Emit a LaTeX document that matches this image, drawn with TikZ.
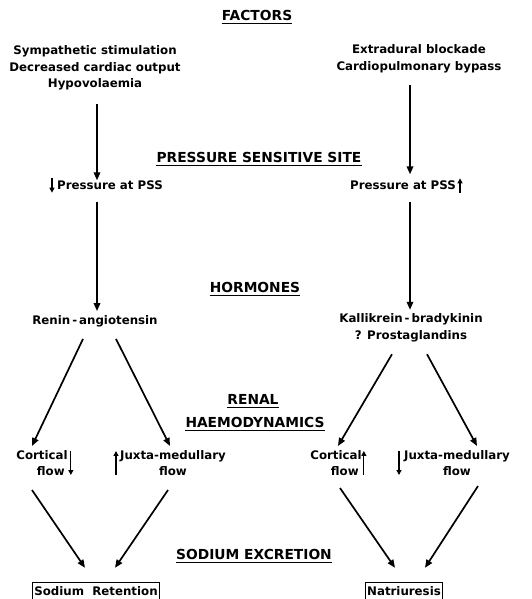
\documentclass[tikz,border=0pt]{standalone}
\usepackage{fontspec}
\setmainfont{DejaVu Sans}
\usetikzlibrary{arrows.meta}
\tikzset{
  lab/.style={font=\bfseries\fontsize{11.8}{16.5}\selectfont, inner sep=0pt, align=center},
  ttl/.style={font=\bfseries\fontsize{13.8}{17}\selectfont, inner sep=0pt},
  ul/.style={line width=1.3pt},
  arr/.style={line width=1.7pt, -{Triangle[length=8pt,width=6.5pt]}},
  sarr/.style={line width=1.2pt, -{Triangle[length=5pt,width=5pt]}},
  outbox/.style={draw, line width=1.3pt, inner xsep=2pt, inner ysep=4pt}
}
\begin{document}
\begin{tikzpicture}[x=1pt,y=-1pt]
\useasboundingbox (0,0) rectangle (531,599);
% titles
\node[ttl] (fac) at (257,15) {FACTORS};
\node[ttl] (pss) at (259,157) {PRESSURE SENSITIVE SITE};
\node[ttl] (hor) at (255,287) {HORMONES};
\node[ttl] (ren) at (253,399) {RENAL};
\node[ttl] (hae) at (255,422) {HAEMODYNAMICS};
\node[ttl] (sod) at (254,554) {SODIUM EXCRETION};
\foreach \n in {fac,pss,hor,ren,hae,sod}
  \draw[ul] ([yshift=-3pt]\n.south west) -- ([yshift=-3pt]\n.south east);
% labels
\node[lab] (fl) at (95,68) {Sympathetic stimulation\\Decreased cardiac output\\Hypovolaemia};
\node[lab] (fr) at (419,59) {Extradural blockade\\Cardiopulmonary bypass};
\node[lab] (pl) at (110,185) {Pressure at PSS};
\node[lab] (pr) at (403,185) {Pressure at PSS};
\node[lab] (ra) at (95,321) {Renin\,-\,angiotensin};
\node[lab] (kb) at (411,328) {Kallikrein\,-\,bradykinin\\? Prostaglandins};
\node[lab] (cl) at (42,463) {Cortical\\\hspace*{1.5em}flow};
\node[lab] (jl) at (173,463) {Juxta-medullary\\flow};
\node[lab] (cr) at (336,463) {Cortical\\\hspace*{1.5em}flow};
\node[lab] (jr) at (457,463) {Juxta-medullary\\flow};
\node[lab,outbox] (sr) at (96,591) {Sodium\ \ Retention};
\node[lab,outbox] (nat) at (404,591) {Natriuresis};
% small direction arrows
\draw[sarr] ([shift={(-5pt,2pt)}]pl.north west) -- ([shift={(-5pt,-3pt)}]pl.south west);
\draw[sarr] ([shift={(4pt,-3pt)}]pr.south east) -- ([shift={(4pt,2pt)}]pr.north east);
\draw[sarr] ([shift={(3pt,-1pt)}]cl.north east) -- ([shift={(3pt,1pt)}]cl.south east);
\draw[sarr] ([shift={(-4pt,1pt)}]jl.south west) -- ([shift={(-4pt,-1pt)}]jl.north west);
\draw[sarr] ([shift={(2pt,1pt)}]cr.south east) -- ([shift={(2pt,-1pt)}]cr.north east);
\draw[sarr] ([shift={(-5pt,-1pt)}]jr.north west) -- ([shift={(-5pt,1pt)}]jr.south west);
% connectors
\draw[arr] ([shift={(2pt,-14pt)}]fl.south) -- ([xshift=2pt]fl.south |- pl.north);
\draw[arr] ([shift={(-9pt,-12pt)}]fr.south) -- ([shift={(7pt,6pt)}]pr.north);
\draw[arr] ([shift={(-13pt,-12pt)}]pl.south) -- ([shift={(2pt,4pt)}]ra.north);
\draw[arr] ([shift={(7pt,-12pt)}]pr.south) -- ([shift={(-1pt,4pt)}]kb.north);
\draw[arr] ([shift={(-12pt,-12pt)}]ra.south) -- ([shift={(-10pt,4pt)}]cl.north);
\draw[arr] ([shift={(21pt,-12pt)}]ra.south) -- ([shift={(-3pt,4pt)}]jl.north);
\draw[arr] ([shift={(-19pt,-12pt)}]kb.south) -- ([shift={(2pt,4pt)}]cr.north);
\draw[arr] ([shift={(16pt,-12pt)}]kb.south) -- ([shift={(20pt,4pt)}]jr.north);
\draw[arr] ([shift={(-10pt,-14pt)}]cl.south) -- ([shift={(-11pt,14pt)}]sr.north);
\draw[arr] ([shift={(-5pt,-14pt)}]jl.south) -- ([shift={(19pt,14pt)}]sr.north);
\draw[arr] ([shift={(4pt,-12pt)}]cr.south) -- ([shift={(-9pt,14pt)}]nat.north);
\draw[arr] ([shift={(21pt,-10pt)}]jr.south) -- ([shift={(21pt,14pt)}]nat.north);
\end{tikzpicture}
\end{document}
